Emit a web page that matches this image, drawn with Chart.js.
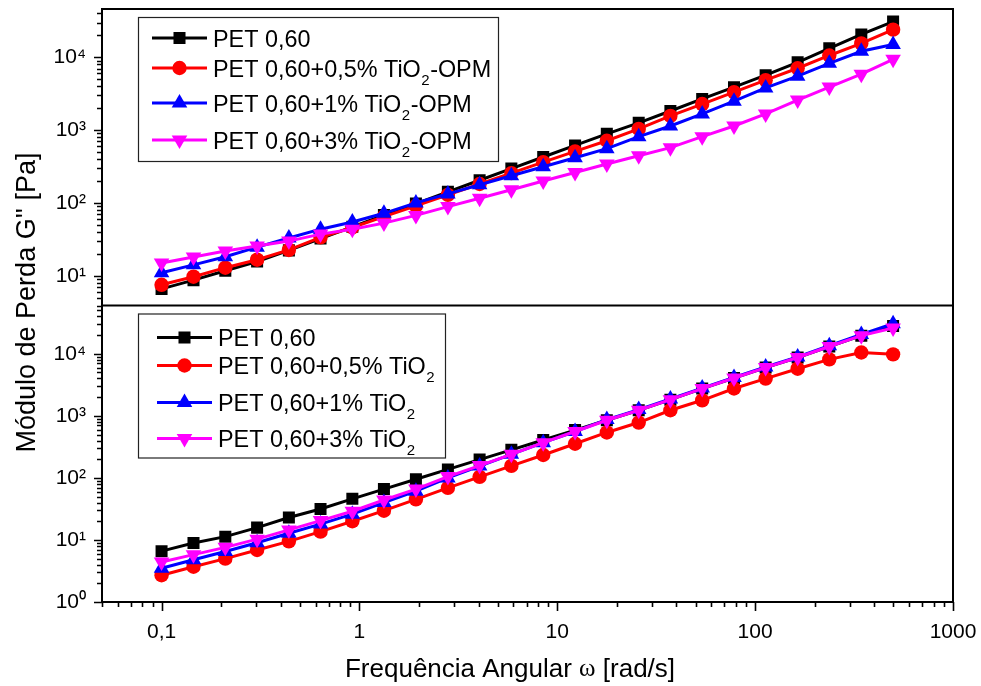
<!DOCTYPE html>
<html>
<head>
<meta charset="utf-8">
<script src="https://cdn.jsdelivr.net/npm/chart.js@4.4.1/dist/chart.umd.min.js"></script>
<style>
  html, body { margin: 0; padding: 0; background: #fff; }
  #wrap { width: 981px; height: 686px; }
</style>
</head>
<body>
<div id="wrap"><canvas id="c" width="981" height="686"></canvas></div>
<script>
// Angular frequency sweep (rad/s)
const omega = [0.1, 0.145, 0.21, 0.304, 0.44, 0.636, 0.921, 1.33, 1.93, 2.8, 4.05, 5.86,
               8.49, 12.3, 17.8, 25.8, 37.3, 54, 78.2, 113, 164, 237, 344, 498];

// Upper panel: PET with TiO2-OPM (G'' in Pa)
const opmPet = [6.6, 8.7, 11.7, 15.7, 22.3, 32.4, 47, 68, 98, 142, 205, 296,
                427, 617, 890, 1260, 1830, 2680, 3890, 5680, 8550, 13300, 20600, 31000];
const opm05  = [7.5, 9.7, 12.9, 16.6, 22.6, 33.6, 46, 65, 91, 129, 182, 257,
                363, 510, 714, 1040, 1570, 2280, 3330, 4860, 7080, 10600, 15500, 24000];
const opm1   = [11, 14.1, 18.2, 24.7, 33, 43.6, 54.6, 72, 100, 133, 178, 236,
                314, 418, 556, 813, 1140, 1670, 2500, 3800, 5500, 8280, 12100, 15000];
const opm3   = [15.0, 18.1, 21.9, 25.6, 29.9, 37.3, 43.6, 52.8, 67.4, 89, 116, 152,
                200, 262, 342, 445, 574, 813, 1140, 1670, 2590, 3900, 5870, 9400];

// Lower panel: PET with TiO2 (G'' in Pa)
const tioPet = [6.6, 8.9, 11.3, 15.8, 23, 31.6, 46, 66, 95, 137, 197, 283,
                408, 589, 850, 1230, 1820, 2750, 4070, 6000, 8700, 13100, 19600, 28000];
const tio05  = [2.7, 3.7, 5.0, 6.9, 9.5, 13.6, 20, 29.6, 45, 69, 104, 156,
                234, 355, 540, 780, 1230, 1780, 2760, 3980, 5750, 8130, 10500, 9800];
const tio1   = [3.5, 4.8, 6.5, 9, 12.8, 18, 26, 40, 61, 100, 155, 240,
                370, 560, 870, 1260, 1870, 2800, 4150, 6150, 8900, 13500, 20500, 30500];
const tio3   = [4.4, 5.8, 7.6, 10.3, 14.5, 20.5, 29, 44, 66, 105, 158, 240,
                370, 560, 850, 1230, 1820, 2750, 4070, 6000, 8700, 13100, 19600, 26000];

const upperLabels = ['PET 0,60', 'PET 0,60+0,5% TiO₂-OPM', 'PET 0,60+1% TiO₂-OPM', 'PET 0,60+3% TiO₂-OPM'];
const lowerLabels = ['PET 0,60', 'PET 0,60+0,5% TiO₂', 'PET 0,60+1% TiO₂', 'PET 0,60+3% TiO₂'];
const xTitle = ['Frequência Angular ', 'ω', ' [rad/s]'];
const yTitle = "Módulo de Perda G'' [Pa]";

const SANS = "'Liberation Sans', Arial, Helvetica, sans-serif";
const looks = [
  { color: '#000000', pointStyle: 'rect',     radius: 8.5, rotation: 0 },
  { color: '#ff0000', pointStyle: 'circle',   radius: 7.2, rotation: 0 },
  { color: '#0000ff', pointStyle: 'triangle', radius: 9,   rotation: 0 },
  { color: '#ff00ff', pointStyle: 'triangle', radius: 9,   rotation: 180 }
];

function makeSet(label, values, k, axis) {
  const s = looks[k];
  return {
    label,
    data: omega.map((x, i) => ({ x, y: values[i] })),
    yAxisID: axis,
    borderColor: s.color,
    backgroundColor: s.color,
    borderWidth: 3,
    pointStyle: s.pointStyle,
    pointRadius: s.radius,
    pointRotation: s.rotation,
    pointBorderWidth: 0,
    pointBackgroundColor: s.color,
    tension: 0,
    order: 4 - k,
    _look: k
  };
}

const datasets = [
  makeSet(upperLabels[0], opmPet, 0, 'yTop'),
  makeSet(upperLabels[1], opm05, 1, 'yTop'),
  makeSet(upperLabels[2], opm1, 2, 'yTop'),
  makeSet(upperLabels[3], opm3, 3, 'yTop'),
  makeSet(lowerLabels[0], tioPet, 0, 'yBottom'),
  makeSet(lowerLabels[1], tio05, 1, 'yBottom'),
  makeSet(lowerLabels[2], tio1, 2, 'yBottom'),
  makeSet(lowerLabels[3], tio3, 3, 'yBottom')
];

const SUP = { '0': '⁰', '1': '¹', '2': '²', '3': '³', '4': '⁴', '5': '⁵', '6': '⁶', '7': '⁷', '8': '⁸', '9': '⁹', '-': '⁻' };
function isDecade(v) {
  const e = Math.round(Math.log10(v));
  return Math.abs(v / Math.pow(10, e) - 1) < 1e-9;
}
function mantissa(v) {
  const e = Math.floor(Math.log10(v) + 1e-9);
  return v / Math.pow(10, e);
}
function powerLabel(v) {
  if (!isDecade(v)) return '';
  const e = Math.round(Math.log10(v));
  return '10' + String(e).split('').map(c => SUP[c]).join('');
}
function decimalLabel(v) {
  if (!isDecade(v)) return '';
  return String(v).replace('.', ',');
}
function noPadding(s) {
  s.paddingTop = 0; s.paddingBottom = 0; s.paddingLeft = 0; s.paddingRight = 0;
}

function yScale(min, max, weight) {
  return {
    type: 'logarithmic',
    position: 'left',
    stack: 'panels',
    stackWeight: 1,
    weight,
    min, max,
    grid: { display: false, drawTicks: false },
    border: { display: false },
    ticks: {
      autoSkip: false,
      padding: 16,
      color: '#000',
      font: { family: SANS, size: 21 },
      callback: (v) => powerLabel(v)
    },
    afterFit: (s) => { s.width = 102; noPadding(s); }
  };
}

// Frame, panel divider and tick marks (major ticks longer than minor ones)
const framePlugin = {
  id: 'frame',
  afterDatasetsDraw(chart) {
    const { ctx, chartArea: a, scales } = chart;
    ctx.save();
    ctx.strokeStyle = '#000';
    ctx.lineWidth = 2;
    ctx.strokeRect(a.left, a.top, a.right - a.left, a.bottom - a.top);
    ctx.beginPath();
    ctx.moveTo(a.left, scales.yTop.bottom);
    ctx.lineTo(a.right, scales.yTop.bottom);
    ctx.stroke();

    ctx.lineWidth = 1.6;
    ctx.beginPath();
    for (const id of ['yTop', 'yBottom']) {
      const s = scales[id];
      for (const t of s.ticks) {
        const m = mantissa(t.value);
        if (Math.abs(m - Math.round(m)) > 1e-6) continue;
        const p = s.getPixelForValue(t.value);
        if (p < s.top - 0.5 || p > s.bottom + 0.5) continue;
        const len = isDecade(t.value) ? 8 : 5;
        ctx.moveTo(a.left - len, Math.round(p) + 0.5);
        ctx.lineTo(a.left, Math.round(p) + 0.5);
      }
    }
    const sx = scales.x;
    for (const t of sx.ticks) {
      const m = mantissa(t.value);
      if (Math.abs(m - Math.round(m)) > 1e-6) continue;
      const p = sx.getPixelForValue(t.value);
      if (p < sx.left - 0.5 || p > sx.right + 0.5) continue;
      const len = isDecade(t.value) ? 9 : 5;
      ctx.moveTo(Math.round(p) + 0.5, a.bottom);
      ctx.lineTo(Math.round(p) + 0.5, a.bottom + len);
    }
    ctx.stroke();
    ctx.restore();
  }
};

// Axis titles (the ω uses a serif face)
const titlePlugin = {
  id: 'axisTitles',
  afterDraw(chart) {
    const { ctx, chartArea: a } = chart;
    ctx.save();
    ctx.fillStyle = '#000';
    ctx.textBaseline = 'alphabetic';
    const fonts = ['26px ' + SANS, '25px "Liberation Serif", "Times New Roman", serif', '26px ' + SANS];
    let total = 0;
    const widths = xTitle.map((txt, i) => { ctx.font = fonts[i]; const w = ctx.measureText(txt).width; total += w; return w; });
    let x = 510 - total / 2;
    const base = a.bottom + 75;
    xTitle.forEach((txt, i) => {
      ctx.font = fonts[i];
      ctx.textAlign = 'left';
      ctx.fillText(txt, x, i === 1 ? base - 1 : base);
      x += widths[i];
    });
    ctx.translate(35, (a.top + a.bottom) / 2 - 3);
    ctx.rotate(-Math.PI / 2);
    ctx.font = '27px ' + SANS;
    ctx.textAlign = 'center';
    ctx.fillText(yTitle, 0, 0);
    ctx.restore();
  }
};

// One framed legend inside each panel
function drawRichLabel(ctx, text, x, baseline) {
  const parts = text.split('₂');
  parts.forEach((p, i) => {
    ctx.font = '23.4px ' + SANS;
    ctx.fillText(p, x, baseline);
    x += ctx.measureText(p).width;
    if (i < parts.length - 1) {
      ctx.font = '15px ' + SANS;
      ctx.fillText('2', x + 0.5, baseline + 8);
      x += ctx.measureText('2').width + 1;
    }
  });
}
const legendPlugin = {
  id: 'panelLegends',
  afterDraw(chart) {
    const { ctx, chartArea: a, scales } = chart;
    const boxes = [
      { top: scales.yTop.top + 8, width: 360, rows: [21, 51, 86, 123], lineX: 14, sets: [0, 1, 2, 3] },
      { top: scales.yBottom.top + 8, width: 307, rows: [24, 52, 89, 125], lineX: 19, sets: [4, 5, 6, 7] }
    ];
    const left = a.left + 36;
    ctx.save();
    for (const b of boxes) {
      ctx.fillStyle = '#fff';
      ctx.fillRect(left, b.top, b.width, 144);
      ctx.strokeStyle = '#222';
      ctx.lineWidth = 1.2;
      ctx.strokeRect(left + 0.5, b.top + 0.5, b.width, 144);
      b.sets.forEach((di, r) => {
        const ds = chart.data.datasets[di];
        const look = looks[ds._look];
        const y = b.top + b.rows[r];
        const x0 = left + b.lineX, x1 = x0 + 55;
        ctx.strokeStyle = look.color;
        ctx.fillStyle = look.color;
        ctx.lineWidth = 3;
        ctx.beginPath();
        ctx.moveTo(x0, y);
        ctx.lineTo(x1, y);
        ctx.stroke();
        Chart.helpers.drawPoint(ctx, {
          pointStyle: look.pointStyle, radius: look.radius, rotation: look.rotation, borderWidth: 0
        }, (x0 + x1) / 2, y);
        ctx.fillStyle = '#000';
        ctx.textAlign = 'left';
        ctx.textBaseline = 'alphabetic';
        drawRichLabel(ctx, ds.label, x1 + 6, y + 8.5);
      });
    }
    ctx.restore();
  }
};

new Chart(document.getElementById('c'), {
  type: 'line',
  data: { datasets },
  options: {
    responsive: false,
    devicePixelRatio: 1,
    animation: false,
    events: [],
    layout: { padding: { top: 7, right: 28, left: 0, bottom: 0 } },
    plugins: { legend: { display: false }, tooltip: { enabled: false }, title: { display: false } },
    scales: {
      x: {
        type: 'logarithmic',
        position: 'bottom',
        min: 0.05, max: 1000,
        grid: { display: false, drawTicks: false },
        border: { display: false },
        ticks: {
          autoSkip: false,
          maxRotation: 0,
          padding: 18,
          color: '#000',
          font: { family: SANS, size: 21 },
          callback: (v) => decimalLabel(v)
        },
        afterFit: (s) => { s.height = 84; noPadding(s); }
      },
      yTop: yScale(3.9, 46100, 2),
      yBottom: yScale(1, 60000, 1)
    }
  },
  plugins: [framePlugin, titlePlugin, legendPlugin]
});
</script>
</body>
</html>
